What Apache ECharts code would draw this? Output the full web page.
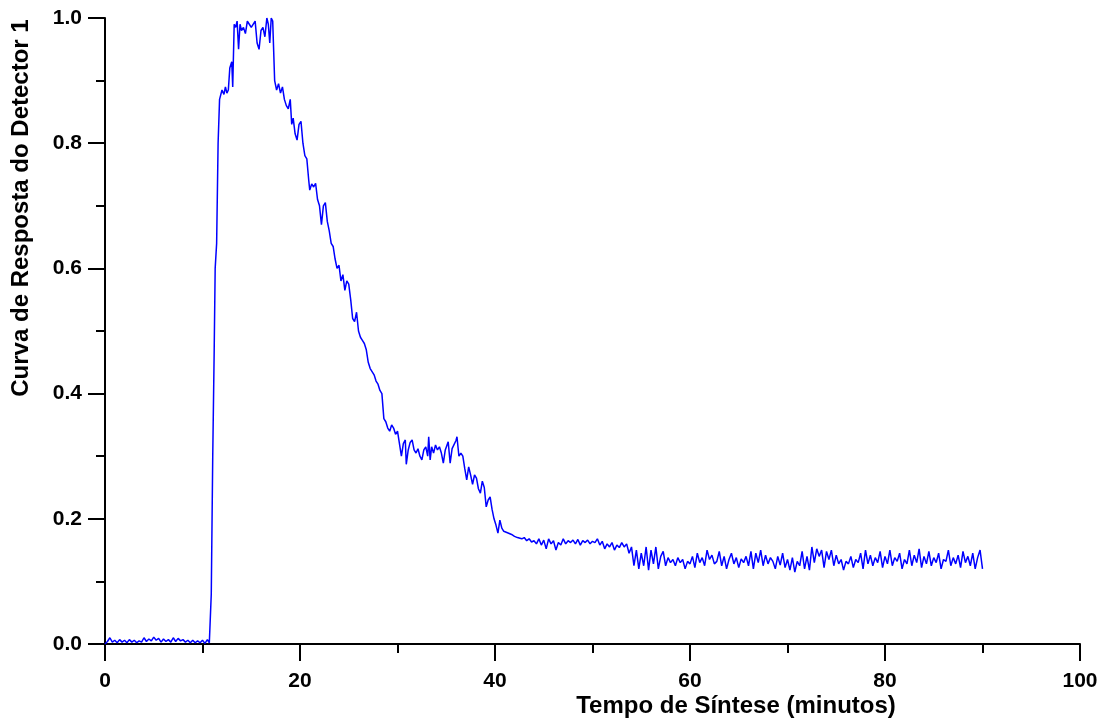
<!DOCTYPE html>
<html>
<head>
<meta charset="utf-8">
<title>Curva de Resposta do Detector 1</title>
<script src="https://cdn.jsdelivr.net/npm/echarts@6/dist/echarts.min.js"></script>
<style>
  html, body { margin: 0; padding: 0; background: #fff; }
  #chart { width: 1105px; height: 719px; }
</style>
</head>
<body>
<div id="chart"></div>
<script>
const xTicks = [0, 20, 40, 60, 80, 100];
const yTicks = [0.0, 0.2, 0.4, 0.6, 0.8, 1.0];

const xTitle = 'Tempo de Síntese (minutos)';
const yTitle = 'Curva de Resposta do Detector 1';

// baseline before the injection (0 - 10.5 min, step 0.25)
const baseline = [
  0.000, 0.004, 0.010, 0.003, 0.006, 0.002, 0.007, 0.003, 0.006, 0.002,
  0.007, 0.003, 0.006, 0.002, 0.005, 0.003, 0.010, 0.004, 0.008, 0.005,
  0.011, 0.006, 0.009, 0.003, 0.008, 0.004, 0.007, 0.003, 0.010, 0.004,
  0.009, 0.005, 0.007, 0.003, 0.006, 0.002, 0.006, 0.002, 0.005, 0.002,
  0.006, 0.001, 0.007
];

// rise, peak and decay (time in min, response)
const peak = [
  [10.7, 0.002], [10.9, 0.08], [11.05, 0.30], [11.2, 0.47], [11.3, 0.60],
  [11.45, 0.64], [11.6, 0.80], [11.75, 0.87], [12.0, 0.885], [12.2, 0.878],
  [12.35, 0.89], [12.5, 0.88], [12.65, 0.885], [12.8, 0.92], [13.0, 0.93],
  [13.1, 0.89], [13.25, 0.99], [13.4, 0.985], [13.55, 0.995], [13.7, 0.95],
  [13.85, 0.99], [14.0, 0.98], [14.2, 0.985], [14.4, 0.975], [14.6, 0.995],
  [14.8, 0.99], [15.0, 0.985], [15.2, 0.985], [15.4, 0.995], [15.6, 0.96],
  [15.8, 0.95], [16.0, 0.98], [16.2, 0.985], [16.4, 0.97], [16.6, 1.0],
  [16.75, 0.99], [16.9, 0.96], [17.05, 1.0], [17.2, 0.995], [17.4, 0.90],
  [17.6, 0.885], [17.8, 0.895], [18.0, 0.88], [18.2, 0.89], [18.4, 0.87],
  [18.6, 0.86], [18.8, 0.855], [19.0, 0.87], [19.15, 0.83], [19.3, 0.84],
  [19.5, 0.815], [19.7, 0.805], [19.9, 0.83], [20.1, 0.835], [20.3, 0.80],
  [20.5, 0.78], [20.7, 0.775], [20.9, 0.74], [21.0, 0.725], [21.2, 0.735],
  [21.4, 0.73], [21.6, 0.736], [21.8, 0.71], [22.0, 0.70], [22.2, 0.67],
  [22.4, 0.70], [22.6, 0.705], [22.8, 0.675], [23.0, 0.66], [23.2, 0.64],
  [23.4, 0.635], [23.6, 0.615], [23.8, 0.60], [24.0, 0.605], [24.2, 0.58],
  [24.4, 0.59], [24.6, 0.565], [24.8, 0.58], [25.0, 0.575], [25.2, 0.55],
  [25.4, 0.52], [25.6, 0.515], [25.8, 0.53], [26.0, 0.50], [26.2, 0.49],
  [26.4, 0.485], [26.6, 0.48], [26.8, 0.47], [27.0, 0.45], [27.2, 0.44],
  [27.4, 0.44], [27.6, 0.43], [27.8, 0.42], [28.0, 0.415], [28.2, 0.405],
  [28.4, 0.40], [28.6, 0.36], [28.8, 0.355], [29.0, 0.345], [29.2, 0.34],
  [29.4, 0.35], [29.6, 0.345], [29.8, 0.335], [30.0, 0.34], [30.2, 0.338],
  [30.4, 0.30], [30.6, 0.32], [30.8, 0.326], [30.9, 0.287], [31.1, 0.31],
  [31.3, 0.322], [31.5, 0.326], [31.7, 0.31], [31.9, 0.305], [32.1, 0.312],
  [32.3, 0.30], [32.5, 0.294], [32.7, 0.31], [32.9, 0.315], [33.1, 0.30],
  [33.2, 0.331], [33.35, 0.294], [33.5, 0.315], [33.7, 0.305], [33.9, 0.318],
  [34.1, 0.31], [34.3, 0.315], [34.5, 0.305], [34.7, 0.289], [34.9, 0.31],
  [35.05, 0.31], [35.2, 0.323], [35.4, 0.289], [35.6, 0.312], [35.8, 0.31],
  [36.0, 0.325], [36.1, 0.331], [36.3, 0.30], [36.5, 0.305], [36.7, 0.30],
  [36.9, 0.28], [37.1, 0.262], [37.3, 0.283], [37.5, 0.27], [37.7, 0.255],
  [37.9, 0.27], [38.1, 0.265], [38.3, 0.248], [38.5, 0.241], [38.7, 0.26],
  [38.9, 0.25], [39.1, 0.219], [39.3, 0.23], [39.5, 0.235], [39.7, 0.215],
  [39.9, 0.20], [40.1, 0.19], [40.3, 0.177], [40.5, 0.198], [40.7, 0.185],
  [40.9, 0.18], [41.1, 0.182], [41.4, 0.177], [41.7, 0.175], [42.0, 0.172],
  [42.3, 0.17]
];

// tail after the peak (42.5 - 90 min, step 0.25)
const tailStart = 42.5;
const tail = [
  0.171, 0.168, 0.170, 0.165, 0.168, 0.163, 0.165, 0.160, 0.168, 0.158,
  0.166, 0.152, 0.168, 0.160, 0.165, 0.150, 0.162, 0.158, 0.168, 0.160,
  0.165, 0.162, 0.166, 0.160, 0.167, 0.158, 0.165, 0.162, 0.166, 0.160,
  0.164, 0.162, 0.168, 0.158, 0.164, 0.152, 0.160, 0.155, 0.162, 0.150,
  0.158, 0.154, 0.162, 0.155, 0.160, 0.145, 0.155, 0.125, 0.150, 0.120,
  0.145, 0.125, 0.155, 0.118, 0.150, 0.128, 0.155, 0.120, 0.140, 0.148,
  0.125, 0.138, 0.130, 0.135, 0.125, 0.138, 0.130, 0.135, 0.120, 0.132,
  0.128, 0.140, 0.122, 0.145, 0.130, 0.138, 0.125, 0.150, 0.135, 0.142,
  0.128, 0.132, 0.148, 0.125, 0.140, 0.120, 0.135, 0.145, 0.128, 0.138,
  0.122, 0.136, 0.130, 0.140, 0.125, 0.148, 0.120, 0.145, 0.130, 0.150,
  0.125, 0.142, 0.128, 0.138, 0.132, 0.120, 0.140, 0.126, 0.145, 0.122,
  0.135, 0.118, 0.138, 0.115, 0.132, 0.125, 0.148, 0.120, 0.140, 0.118,
  0.155, 0.130, 0.152, 0.140, 0.150, 0.122, 0.148, 0.135, 0.150, 0.125,
  0.142, 0.128, 0.135, 0.118, 0.132, 0.128, 0.140, 0.122, 0.135, 0.130,
  0.145, 0.120, 0.150, 0.128, 0.142, 0.125, 0.138, 0.130, 0.148, 0.122,
  0.140, 0.128, 0.150, 0.125, 0.138, 0.132, 0.145, 0.120, 0.135, 0.128,
  0.150, 0.125, 0.142, 0.130, 0.152, 0.122, 0.140, 0.128, 0.148, 0.125,
  0.138, 0.130, 0.145, 0.120, 0.135, 0.132, 0.150, 0.125, 0.138, 0.128,
  0.142, 0.122, 0.148, 0.130, 0.140, 0.125, 0.145, 0.120, 0.138, 0.150,
  0.120
];

const step = 0.25;

function buildSeries() {
  let data = [];
  for (let i = 0; i < baseline.length; i++) {
    data.push([i * step, baseline[i]]);
  }
  for (let i = 0; i < peak.length; i++) {
    data.push(peak[i]);
  }
  for (let i = 0; i < tail.length; i++) {
    data.push([tailStart + i * step, tail[i]]);
  }
  return data;
}

const font = 'Liberation Sans, Arial, Helvetica, sans-serif';

const chart = echarts.init(document.getElementById('chart'));

const axisCommon = {
  axisLine: { show: true, onZero: false, lineStyle: { color: '#000', width: 2 } },
  axisTick: { show: true, inside: false, length: 17, lineStyle: { color: '#000', width: 2 } },
  minorTick: { show: true, splitNumber: 2, length: 9, lineStyle: { color: '#000', width: 2 } },
  splitLine: { show: false },
  minorSplitLine: { show: false }
};

const options = {
  backgroundColor: '#fff',
  animation: false,
  grid: { left: 105, right: 25, top: 18, bottom: 75, containLabel: false },
  xAxis: Object.assign({}, axisCommon, {
    type: 'value',
    min: xTicks[0],
    max: xTicks[xTicks.length - 1],
    interval: xTicks[1] - xTicks[0],
    axisLabel: { color: '#000', fontFamily: font, fontWeight: 'bold', fontSize: 21, margin: 27 }
  }),
  yAxis: Object.assign({}, axisCommon, {
    type: 'value',
    min: yTicks[0],
    max: yTicks[yTicks.length - 1],
    interval: 0.2,
    axisLabel: {
      color: '#000', fontFamily: font, fontWeight: 'bold', fontSize: 21, margin: 23,
      formatter: function (v) { return v.toFixed(1); }
    }
  }),
  graphic: [
    {
      type: 'text',
      x: 736, y: 706,
      style: {
        text: xTitle, fill: '#000', font: 'bold 24px ' + font,
        textAlign: 'center', textVerticalAlign: 'middle'
      }
    },
    {
      type: 'text',
      x: 21, y: 208,
      rotation: Math.PI / 2,
      style: {
        text: yTitle, fill: '#000', font: 'bold 24px ' + font,
        textAlign: 'center', textVerticalAlign: 'middle'
      }
    }
  ],
  series: [{
    type: 'line',
    data: buildSeries(),
    showSymbol: false,
    symbol: 'none',
    lineStyle: { color: '#0000ff', width: 1.5 },
    z: 1
  }]
};

chart.setOption(options);
</script>
</body>
</html>
